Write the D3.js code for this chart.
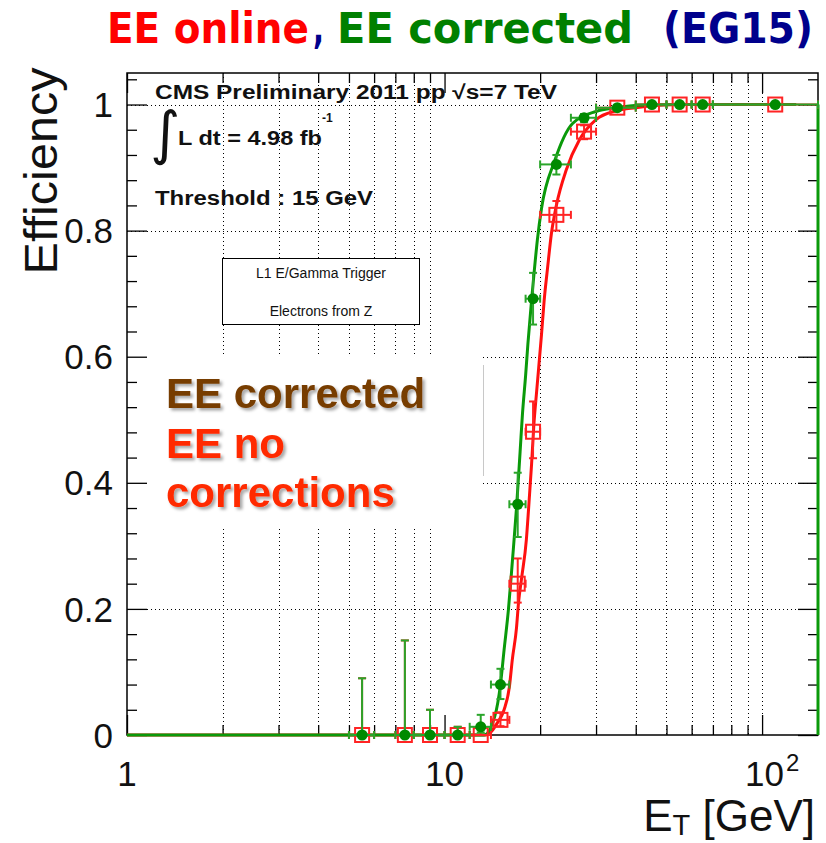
<!DOCTYPE html>
<html>
<head>
<meta charset="utf-8">
<script src="https://cdn.jsdelivr.net/npm/d3@7/dist/d3.min.js"></script>
<style>
  body { margin: 0; background: #fff; }
  svg { display: block; }
</style>
</head>
<body>
<svg id="chart" width="826" height="843"></svg>
<script>
// Electron transverse-energy bins (GeV): centre and edges
const binCentre = [5.5, 7.5, 9, 11, 13, 15, 17, 19, 22.5, 27.5, 35, 45, 55, 65, 110];
const binLow    = [5,   7,   8, 10, 12, 14, 16, 18, 20,   25,   30, 40, 50, 60, 70];
const binHigh   = [6,   8,  10, 12, 14, 16, 18, 20, 25,   30,   40, 50, 60, 70, 150];

// Trigger efficiency with corrections (EE corrected)
const corrEff     = [0, 0, 0, 0, 0.013, 0.080, 0.366, 0.692, 0.905, 0.979, 0.995, 1, 1, 1, 1];
const corrErrUp   = [0.090, 0.150, 0.040, 0.013, 0.019, 0.025, 0.050, 0.041, 0.015, 0.006, 0.003, 0, 0, 0, 0];
const corrErrDown = [0, 0, 0, 0, 0.009, 0.023, 0.052, 0.041, 0.016, 0.007, 0.004, 0.002, 0.001, 0.001, 0.001];

// Trigger efficiency without corrections (EE online)
const onlEff     = [0, 0, 0, 0, 0, 0.024, 0.240, 0.481, 0.825, 0.957, 0.995, 1, 1, 1, 1];
const onlErrUp   = [0.090, 0.150, 0.040, 0.013, 0.010, 0.012, 0.040, 0.048, 0.022, 0.010, 0.003, 0, 0, 0, 0];
const onlErrDown = [0, 0, 0, 0, 0, 0.010, 0.030, 0.042, 0.025, 0.012, 0.004, 0.002, 0.001, 0.001, 0.001];

// Fitted turn-on curves, sampled (E_T, efficiency)
const corrFitE   = [1, 13.3, 14.4, 15.0, 15.4, 15.9, 16.35, 16.85, 17.3, 17.6, 18.0, 18.3, 18.8, 19.2, 19.6, 20.2, 22.2, 25.3, 30.0, 34.7, 41, 55, 128];
const corrFitEff = [0, 0, 0.03, 0.08, 0.135, 0.2, 0.275, 0.36, 0.45, 0.51, 0.57, 0.62, 0.69, 0.74, 0.785, 0.835, 0.91, 0.97, 0.989, 0.995, 0.999, 1, 1];
const onlFitE    = [1, 13.5, 14.7, 15.4, 16.0, 16.35, 16.85, 17.1, 17.5, 18.1, 18.4, 18.8, 19.1, 19.5, 20.2, 20.6, 21.1, 21.7, 22.5, 24.2, 26.6, 30.0, 34.7, 40, 55, 128];
const onlFitEff  = [0, 0, 0.02, 0.04, 0.076, 0.12, 0.17, 0.21, 0.25, 0.31, 0.36, 0.43, 0.49, 0.545, 0.635, 0.69, 0.74, 0.795, 0.84, 0.897, 0.944, 0.976, 0.99, 0.995, 1, 1];

// Axis ticks
const xMajor = [1, 10, 100];
const xMinor = [2, 3, 4, 5, 6, 7, 8, 9, 20, 30, 40, 50, 60, 70, 80, 90];
const yMajor = [0, 0.2, 0.4, 0.6, 0.8, 1];
const yMinor = [0.04, 0.08, 0.12, 0.16, 0.24, 0.28, 0.32, 0.36, 0.44, 0.48, 0.52, 0.56, 0.64, 0.68, 0.72, 0.76, 0.84, 0.88, 0.92, 0.96, 1.04];
const yTickLabels = ["0", "0.2", "0.4", "0.6", "0.8", "1"];

const svg = d3.select("#chart");
const frame = { left: 127, right: 818, top: 73, bottom: 735 };

const x = d3.scaleLog().domain([1, 150]).range([frame.left, frame.right]);
const y = d3.scaleLinear().domain([0, 1.05]).range([frame.bottom, frame.top]);

const C = {
  red: "#ff1010", redMark: "#ff2424",
  green: "#0a9a0a", greenMark: "#008a00", greenErr: "#2aa52a"
};

const defs = svg.append("defs");
const sh = defs.append("filter").attr("id", "shadow").attr("x", "-10%").attr("y", "-20%").attr("width", "130%").attr("height", "150%");
sh.append("feDropShadow").attr("dx", 2.5).attr("dy", 2.5).attr("stdDeviation", 1.6)
  .attr("flood-color", "#000").attr("flood-opacity", 0.35);

// ---- title ----
const title = [
  { t: "EE online", x: 107, len: 202, c: "#ff0000" },
  { t: ",", x: 313, len: 11, c: "#00008c" },
  { t: "EE corrected", x: 337, len: 296, c: "#008000" },
  { t: "(EG15)", x: 663, len: 150, c: "#00008c" }
];
svg.append("g").selectAll("text").data(title).join("text")
  .attr("x", d => d.x).attr("y", 43)
  .attr("textLength", d => d.len).attr("lengthAdjust", "spacingAndGlyphs")
  .attr("font-family", "'DejaVu Sans Condensed', 'DejaVu Sans', sans-serif")
  .attr("font-weight", "bold").attr("font-size", 42)
  .attr("fill", d => d.c).text(d => d.t);

// ---- grid ----
const grid = svg.append("g").attr("stroke", "#000").attr("stroke-width", 1)
  .attr("stroke-dasharray", "1,3").attr("fill", "none").attr("shape-rendering", "crispEdges");
grid.selectAll("line.v").data(xMinor.concat([100])).join("line").attr("class", "v")
  .attr("x1", d => Math.round(x(d)) + 0.5).attr("x2", d => Math.round(x(d)) + 0.5)
  .attr("y1", frame.top).attr("y2", frame.bottom);
grid.selectAll("line.h").data(yMajor.slice(1)).join("line").attr("class", "h")
  .attr("x1", frame.left).attr("x2", frame.right)
  .attr("y1", d => Math.round(y(d)) + 0.5).attr("y2", d => Math.round(y(d)) + 0.5);

// white panel holding the annotation
svg.append("rect").attr("x", 129).attr("y", 354).attr("width", 354).attr("height", 175).attr("fill", "#fff");
svg.append("line").attr("x1", 483.5).attr("x2", 483.5).attr("y1", 365).attr("y2", 476)
  .attr("stroke", "#c8c8c8").attr("stroke-width", 1);

// ---- frame and ticks ----
function ticks(axis, tr) {
  const g = svg.append("g").attr("transform", tr).call(axis);
  g.select(".domain").remove();
  g.selectAll("line").attr("stroke", "#000").attr("stroke-width", 1.3);
  return g;
}
ticks(d3.axisBottom(x).tickValues(xMajor).tickSize(-20).tickFormat(""), `translate(0,${frame.bottom})`);
ticks(d3.axisBottom(x).tickValues(xMinor).tickSize(-10).tickFormat(""), `translate(0,${frame.bottom})`);
ticks(d3.axisTop(x).tickValues(xMajor).tickSize(-20).tickFormat(""), `translate(0,${frame.top})`);
ticks(d3.axisTop(x).tickValues(xMinor).tickSize(-10).tickFormat(""), `translate(0,${frame.top})`);
ticks(d3.axisLeft(y).tickValues(yMajor).tickSize(-20).tickFormat(""), `translate(${frame.left},0)`);
ticks(d3.axisLeft(y).tickValues(yMinor).tickSize(-10).tickFormat(""), `translate(${frame.left},0)`);
ticks(d3.axisRight(y).tickValues(yMajor).tickSize(-20).tickFormat(""), `translate(${frame.right},0)`);
ticks(d3.axisRight(y).tickValues(yMinor).tickSize(-10).tickFormat(""), `translate(${frame.right},0)`);

svg.append("rect").attr("x", frame.left).attr("y", frame.top)
  .attr("width", frame.right - frame.left).attr("height", frame.bottom - frame.top)
  .attr("fill", "none").attr("stroke", "#000").attr("stroke-width", 1.5);

// tick labels
const font = "'Liberation Sans', Arial, Helvetica, sans-serif";
svg.append("g").selectAll("text").data(yMajor).join("text")
  .attr("x", 113).attr("y", d => y(d)).attr("dy", "0.36em")
  .attr("text-anchor", "end").attr("font-family", font).attr("font-size", 35).attr("fill", "#111")
  .text((d, i) => yTickLabels[i]);

const xl = svg.append("g").attr("font-family", font).attr("font-size", 35).attr("fill", "#111");
xl.append("text").attr("x", x(1)).attr("y", 786).attr("text-anchor", "middle").text("1");
xl.append("text").attr("x", x(10)).attr("y", 786).attr("text-anchor", "middle").text("10");
const t100 = xl.append("text").attr("x", x(100) - 17).attr("y", 786);
t100.append("tspan").text("10");
t100.append("tspan").attr("font-size", 24).attr("dy", -15).attr("dx", 2).text("2");

// axis titles
const xt = svg.append("text").attr("x", 815).attr("y", 831).attr("text-anchor", "end")
  .attr("font-family", font).attr("font-size", 44).attr("fill", "#111");
xt.append("tspan").text("E");
xt.append("tspan").attr("font-size", 29).attr("dy", 4).text("T");
xt.append("tspan").attr("dy", -4).text(" [GeV]");

svg.append("text").attr("transform", "translate(57,171) rotate(-90)")
  .attr("text-anchor", "middle").attr("font-family", font).attr("font-size", 47)
  .attr("textLength", 207).attr("lengthAdjust", "spacingAndGlyphs")
  .attr("fill", "#111").text("Efficiency");

// ---- CMS labels ----
const lab = svg.append("g").attr("font-family", font).attr("font-weight", "bold").attr("font-size", 20).attr("fill", "#111");
lab.append("text").attr("x", 155).attr("y", 99).attr("textLength", 402).attr("lengthAdjust", "spacingAndGlyphs")
  .text("CMS Preliminary 2011 pp \u221As=7 TeV");
lab.append("text").attr("x", 150).attr("y", 153).attr("font-weight", "normal")
  .attr("font-family", "'DejaVu Sans', sans-serif").attr("font-size", 58).text("\u222B");
lab.append("text").attr("x", 178).attr("y", 145).attr("textLength", 144).attr("lengthAdjust", "spacingAndGlyphs")
  .text("L dt = 4.98 fb");
lab.append("text").attr("x", 322).attr("y", 122).attr("font-size", 12).text("-1");
lab.append("text").attr("x", 155).attr("y", 205).attr("textLength", 218).attr("lengthAdjust", "spacingAndGlyphs")
  .text("Threshold : 15 GeV");

// legend box
svg.append("rect").attr("x", 222.5).attr("y", 258.5).attr("width", 197).attr("height", 66)
  .attr("fill", "#fff").attr("stroke", "#000").attr("stroke-width", 1);
const lb = svg.append("g").attr("font-family", font).attr("font-size", 14).attr("fill", "#111").attr("text-anchor", "middle");
lb.append("text").attr("x", 321).attr("y", 278).text("L1 E/Gamma Trigger");
lb.append("text").attr("x", 321).attr("y", 316).text("Electrons from Z");

// ---- fit curves ----
const line = d3.line().x(d => x(d[0])).y(d => y(d[1])).curve(d3.curveMonotoneX);
svg.append("path").datum(d3.zip(onlFitE, onlFitEff)).attr("d", line)
  .attr("fill", "none").attr("stroke", C.red).attr("stroke-width", 3);
svg.append("path").datum(d3.zip(corrFitE, corrFitEff)).attr("d", line)
  .attr("fill", "none").attr("stroke", C.green).attr("stroke-width", 3);
// right border below the plateau drawn in the fit colour
svg.append("line").attr("x1", frame.right).attr("x2", frame.right)
  .attr("y1", y(1)).attr("y2", frame.bottom).attr("stroke", C.green).attr("stroke-width", 3);

// ---- data points with error bars ----
function points(eff, up, down, color, errColor, marker) {
  const data = binCentre.map((c, i) => ({ c, lo: binLow[i], hi: binHigh[i], e: eff[i], u: up[i], d: down[i] }));
  const g = svg.append("g");
  const cap = 4;
  const eb = g.append("g").attr("stroke", errColor).attr("stroke-width", 2).attr("fill", "none");
  data.forEach(p => {
    const cx = x(p.c), cy = y(p.e);
    const xl = x(p.lo), xh = x(p.hi);
    eb.append("line").attr("x1", xl).attr("x2", xh).attr("y1", cy).attr("y2", cy);
    eb.append("line").attr("x1", xl).attr("x2", xl).attr("y1", cy - cap).attr("y2", cy + cap);
    eb.append("line").attr("x1", xh).attr("x2", xh).attr("y1", cy - cap).attr("y2", cy + cap);
    if (p.u > 0) {
      const yt = y(p.e + p.u);
      eb.append("line").attr("x1", cx).attr("x2", cx).attr("y1", cy).attr("y2", yt);
      eb.append("line").attr("x1", cx - cap).attr("x2", cx + cap).attr("y1", yt).attr("y2", yt);
    }
    if (p.d > 0) {
      const yb = y(p.e - p.d);
      eb.append("line").attr("x1", cx).attr("x2", cx).attr("y1", cy).attr("y2", yb);
      eb.append("line").attr("x1", cx - cap).attr("x2", cx + cap).attr("y1", yb).attr("y2", yb);
    }
  });
  if (marker === "square") {
    g.selectAll("rect").data(data).join("rect")
      .attr("x", d => x(d.c) - 7).attr("y", d => y(d.e) - 7)
      .attr("width", 14).attr("height", 14)
      .attr("fill", "none").attr("stroke", color).attr("stroke-width", 2);
  } else {
    g.selectAll("circle").data(data).join("circle")
      .attr("cx", d => x(d.c)).attr("cy", d => y(d.e)).attr("r", 5.5)
      .attr("fill", color);
  }
}
points(onlEff, onlErrUp, onlErrDown, C.redMark, C.redMark, "square");
points(corrEff, corrErrUp, corrErrDown, C.greenMark, C.greenErr, "circle");

// ---- annotation ----
const ann = svg.append("g").attr("font-family", font).attr("font-weight", "bold").attr("font-size", 42)
  .attr("filter", "url(#shadow)");
ann.append("text").attr("x", 166).attr("y", 408).attr("fill", "#773c00").text("EE corrected");
ann.append("text").attr("x", 166).attr("y", 458).attr("fill", "#ff2a00").text("EE no");
ann.append("text").attr("x", 166).attr("y", 507).attr("fill", "#ff2a00").text("corrections");
</script>
</body>
</html>
